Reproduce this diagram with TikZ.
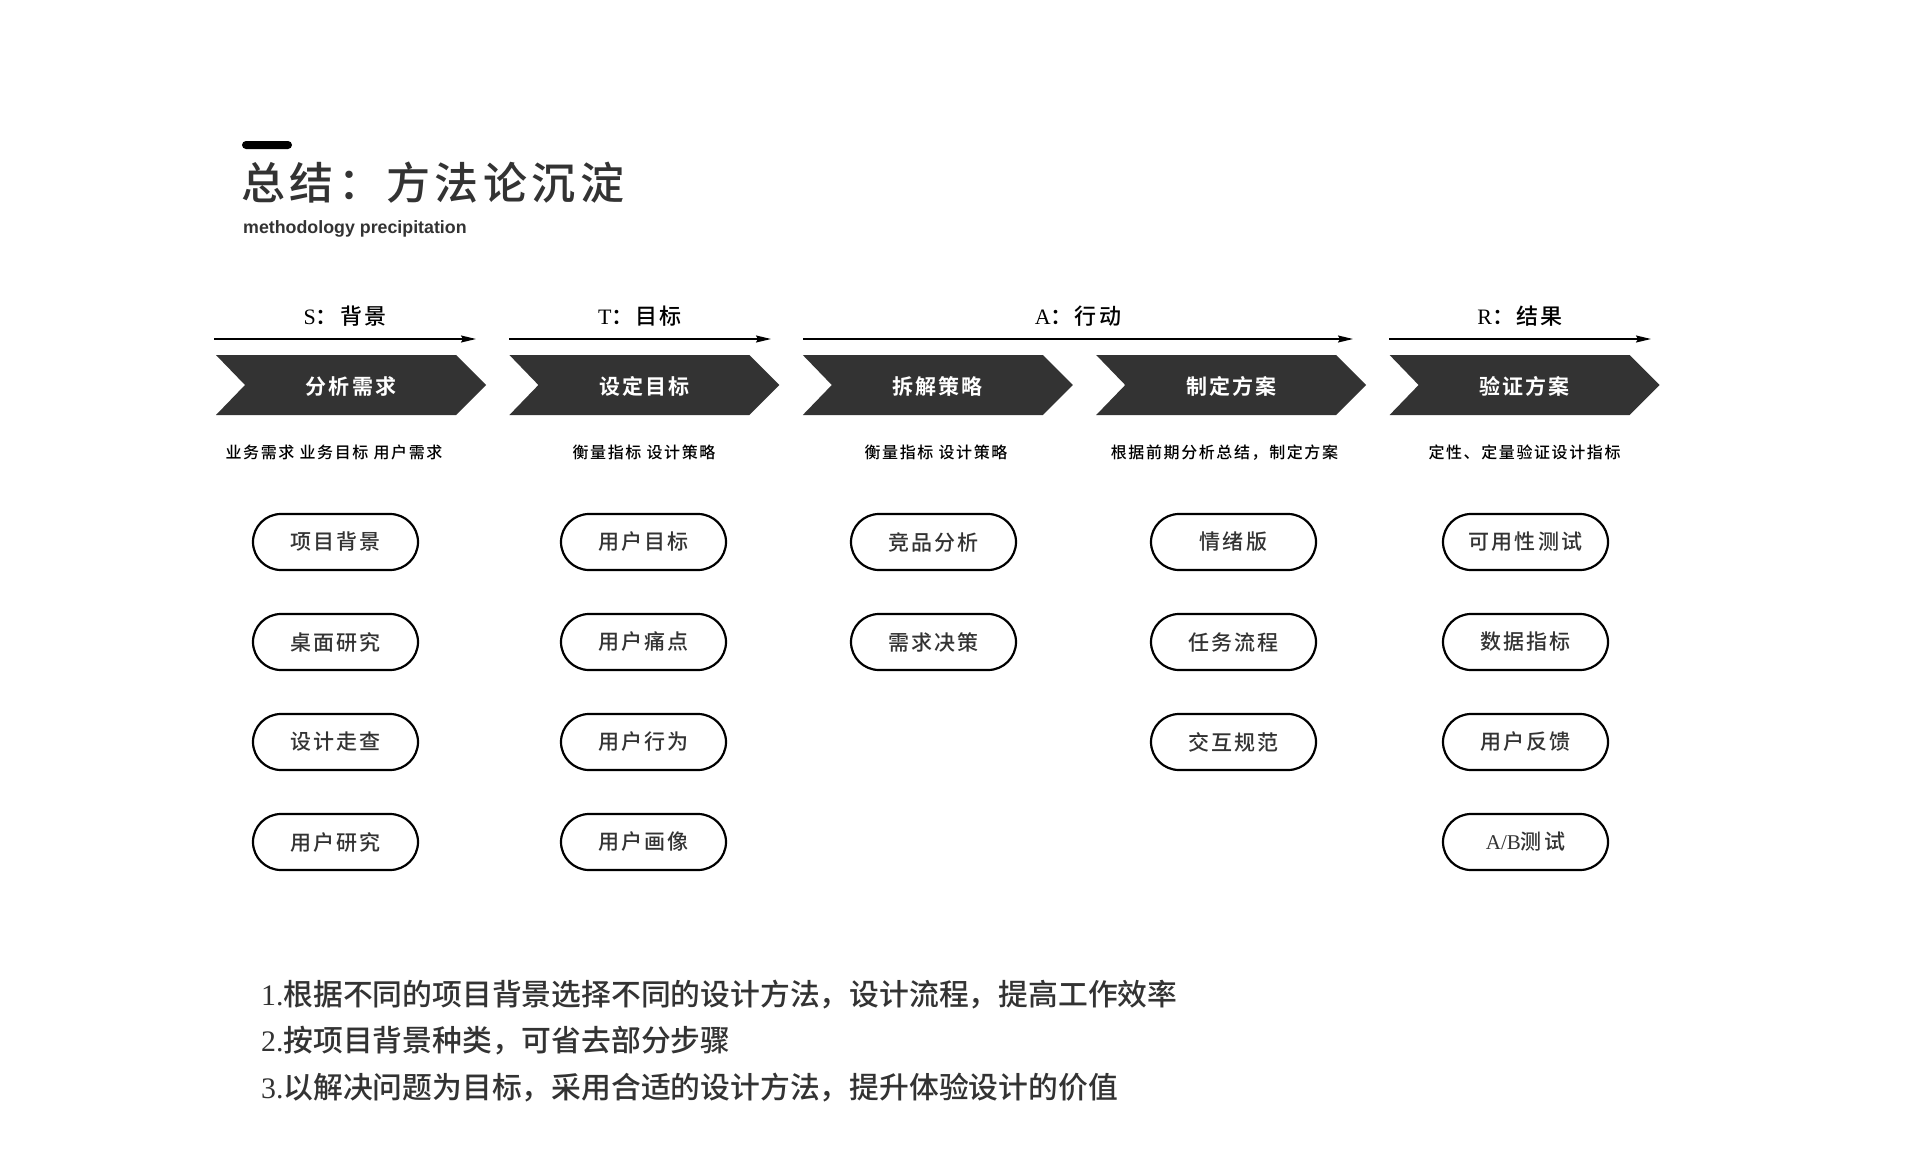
\documentclass[tikz,border=0pt]{standalone}
\usepackage{fontspec}
\setmainfont{Liberation Serif}
\newfontfamily\cjk{Noto Sans CJK SC Medium}
\newfontfamily\cjkwide[LetterSpace=10]{Noto Sans CJK SC Medium}
\newfontfamily\cjkbold[LetterSpace=10]{Noto Sans CJK SC Bold}
\newfontfamily\latsans{Liberation Sans}
\usepackage{xcolor}
\usetikzlibrary{arrows.meta, positioning}
\definecolor{inkgray}{HTML}{333333}
\newcommand{\fsz}[1]{\fontsize{#1}{#1}\selectfont}

\begin{document}
\begin{tikzpicture}[x=1pt, y=-1pt,
  >={Stealth[length=15pt,width=7pt,inset=2pt]},
  pill/.style={draw=black, line width=2.2pt, rounded corners=28pt,
    minimum width=165pt, minimum height=56pt, inner sep=0pt,
    text=inkgray, font=\cjkwide\fsz{21}},
  chevtext/.style={text=white, inner sep=0pt, font=\cjkbold\fsz{21}},
  subtext/.style={anchor=base, inner sep=0pt, text=black, font=\cjkwide\fsz{16}},
  phase/.style={anchor=base, inner sep=0pt, text=black, font=\fsz{22}},
  flow/.style={->, line width=1.6pt},
  note/.style={anchor=base west, inner sep=0pt, text=inkgray, font=\cjk\fsz{29.8}}]
  \fill[white] (0,0) rectangle (1920,1175);
  \useasboundingbox (0,0) rectangle (1920,1175);

  % heading
  \fill[black, rounded corners=4pt] (242,141) rectangle (292,149);
  \node[anchor=base west, inner sep=0pt, text=inkgray, font=\cjkwide\fsz{44}]
    (title) at (241,199) {总结：方法论沉淀};
  \node[anchor=base west, inner sep=0pt, text=inkgray, font=\latsans\bfseries\fsz{17.8}]
    (subtitle) at (243,233) {methodology precipitation};

  % S T A R phases
  \foreach \ltr/\zh/\xa/\xb in {S/背景/214/476, T/目标/509/771,
                               A/行动/803/1353, R/结果/1389/1651}{
    \coordinate (\ltr-from) at (\xa,339);
    \coordinate (\ltr-to) at (\xb,339);
    \draw[flow] (\ltr-from) -- (\ltr-to);
    \node[phase] (\ltr-label) at ({(\xa+\xb)/2},324) {\ltr{\cjkwide ：\zh}};
  }

  % chevrons
  \foreach \txt [count=\i from 0] in {分析需求, 设定目标, 拆解策略, 制定方案, 验证方案}{
    \pgfmathsetmacro\cx{216+293.4*\i}
    \fill[inkgray] (\cx,355) -- ++(240,0) -- ++(30,30) -- ++(-30,30)
      -- ++(-240,0) -- ++(29,-30) -- cycle;
    \node[chevtext] (chev\i) at (\cx+135,386.5) {\txt};
  }

  % descriptions
  \foreach \cx/\txt [count=\i] in {334/业务需求 业务目标 用户需求, 644/衡量指标 设计策略,
      936/衡量指标 设计策略, 1224.5/根据前期分析总结，制定方案,
      1524.5/定性、定量验证设计指标}
    \node[subtext] (desc\i) at (\cx,458) {\txt};

  % methods
  \foreach \cx/\items [count=\c] in {
      335.5/{项目背景, 桌面研究, 设计走查, 用户研究},
      643.5/{用户目标, 用户痛点, 用户行为, 用户画像},
      933.5/{竞品分析, 需求决策},
      1233.5/{情绪版, 任务流程, 交互规范},
      1525.5/{可用性测试, 数据指标, 用户反馈, {\rmfamily A/B}测试}}
    \foreach \t [count=\r] in \items
      \node[pill] (pill-\c-\r) at (\cx,442+100*\r) {\t};

  % summary
  \node[note] (note1) at (261,1005) {{\rmfamily 1.}根据不同的项目背景选择不同的设计方法，设计流程，提高工作效率};
  \node[note] (note2) at (261,1051.5) {{\rmfamily 2.}按项目背景种类，可省去部分步骤};
  \node[note] (note3) at (261,1098) {{\rmfamily 3.}以解决问题为目标，采用合适的设计方法，提升体验设计的价值};
\end{tikzpicture}
\end{document}
